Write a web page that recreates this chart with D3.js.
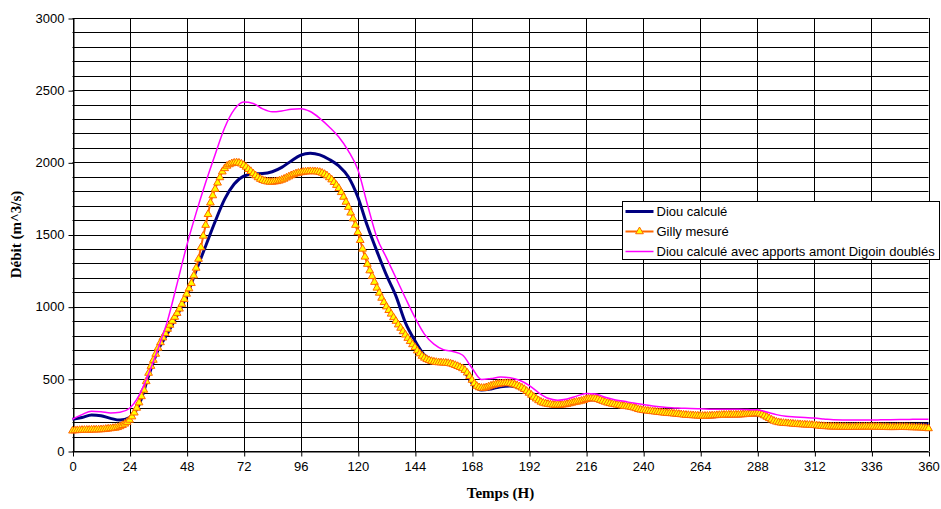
<!DOCTYPE html>
<html>
<head>
<meta charset="utf-8">
<script src="https://cdn.jsdelivr.net/npm/d3@7"></script>
<style>
  body { margin: 0; background: #fff; }
  svg { display: block; }
  .tick text { font-family: "Liberation Sans", Arial, sans-serif; font-size: 13px; fill: #000; }
</style>
</head>
<body>
<div id="container"></div>
<script>
// hours for the two computed series (one value every 4 h)
const lineHours = d3.range(0, 361, 4);
// hours for the measured series (hourly)
const gillyHours = d3.range(0, 361, 1);

const diouCalcule = [
  220, 232, 250, 244, 226, 214, 232, 320, 520, 700, 815, 940,
  1075, 1250, 1420, 1590, 1745, 1850, 1905, 1920, 1922, 1935, 1965, 2010,
  2050, 2063, 2052, 2020, 1975, 1900, 1760, 1560, 1385, 1220, 1075, 890,
  765, 665, 625, 615, 600, 568, 470, 422, 430, 445, 450, 435,
  395, 345, 318, 310, 318, 335, 355, 355, 335, 318, 306, 292,
  278, 268, 260, 253, 247, 242, 238, 238, 240, 243, 245, 248,
  250, 225, 205, 195, 190, 187, 184, 182, 180, 180, 180, 180,
  180, 181, 182, 183, 184, 185, 185
];

const diouDoubles = [
  220, 252, 276, 272, 263, 268, 296, 385, 535, 710, 905, 1160,
  1420, 1650, 1860, 2055, 2240, 2365, 2418, 2408, 2370, 2350, 2356, 2368,
  2372, 2352, 2305, 2245, 2175, 2080, 1950, 1710, 1480, 1340, 1200, 1060,
  925, 810, 740, 702, 690, 665, 575, 495, 502, 512, 508, 490,
  455, 405, 365, 352, 360, 380, 398, 395, 372, 355, 344, 332,
  322, 312, 305, 300, 297, 294, 292, 290, 289, 289, 289, 287,
  285, 270, 252, 240, 236, 232, 228, 222, 216, 215, 215, 215,
  215, 216, 217, 218, 219, 220, 220
];

const gillyMesure = [
  140, 142, 143, 144, 145, 145, 146, 146, 147, 147, 148, 148, 149, 150, 152, 154, 156, 158, 160, 164, 170, 178, 188, 200,
  215, 238, 265, 298, 335, 378, 423, 482, 540, 588, 630, 672, 714, 752, 785, 815, 845, 873, 900, 928, 955, 985, 1018, 1052,
  1088, 1125, 1162, 1215, 1268, 1330, 1410, 1490, 1565, 1640, 1720, 1770, 1815, 1858, 1895, 1935, 1958, 1975, 1985, 1992, 1996, 1998, 1996, 1990,
  1980, 1968, 1952, 1938, 1922, 1908, 1895, 1884, 1876, 1870, 1866, 1864, 1864, 1866, 1868, 1872, 1878, 1885, 1893, 1901, 1909, 1916, 1922, 1926,
  1930, 1933, 1935, 1936, 1937, 1937, 1936, 1935, 1932, 1926, 1918, 1908, 1895, 1880, 1862, 1842, 1820, 1792, 1760, 1725, 1690, 1650, 1610, 1565,
  1515, 1460, 1400, 1345, 1295, 1250, 1210, 1170, 1130, 1095, 1060, 1030, 1000, 975, 950, 925, 900, 875, 852, 828, 805, 782, 760, 738,
  718, 695, 675, 658, 645, 635, 628, 622, 618, 615, 613, 612, 611, 610, 608, 605, 600, 594, 587, 580, 572, 560, 542, 518,
  492, 468, 450, 440, 436, 436, 440, 446, 452, 457, 461, 464, 466, 468, 469, 469, 468, 465, 460, 454, 446, 438, 428, 415,
  402, 388, 374, 362, 350, 340, 333, 328, 325, 322, 320, 319, 319, 319, 320, 322, 325, 329, 333, 337, 340, 343, 347, 352,
  358, 362, 364, 364, 362, 358, 352, 346, 340, 334, 330, 326, 323, 320, 317, 314, 311, 309, 307, 304, 300, 295, 289, 285,
  282, 280, 278, 276, 274, 272, 270, 268, 266, 264, 262, 261, 260, 258, 257, 255, 253, 251, 249, 248, 247, 246, 245, 244,
  243, 243, 243, 243, 244, 245, 246, 247, 248, 249, 250, 250, 251, 251, 251, 251, 251, 252, 253, 254, 255, 257, 258, 259,
  260, 258, 253, 245, 236, 226, 216, 208, 202, 198, 195, 193, 192, 191, 190, 188, 186, 185, 184, 183, 182, 181, 180, 179,
  178, 176, 174, 172, 171, 170, 169, 168, 168, 167, 167, 166, 166, 166, 165, 165, 165, 165, 166, 166, 166, 167, 167, 167,
  167, 167, 166, 166, 165, 165, 165, 164, 164, 164, 164, 165, 165, 165, 165, 164, 164, 163, 163, 162, 162, 161, 160, 158, 156
];

const xTicks = d3.range(0, 361, 24);
const yTicks = [0, 500, 1000, 1500, 2000, 2500, 3000];
const yGrid = d3.range(0, 3001, 100);

const legendLabels = ["Diou calculé", "Gilly mesuré", "Diou calculé avec apports amont Digoin doublés"];

const width = 941, height = 509;
const margin = { top: 18, right: 12, bottom: 58, left: 72 };

const svg = d3.select("#container")
  .append("svg")
  .attr("width", width)
  .attr("height", height);

const x = d3.scaleLinear().domain([0, 360]).range([margin.left + 0.5, width - margin.right - 0.5]);
const y = d3.scaleLinear().domain([0, 3000]).range([height - margin.bottom, margin.top]);

const crisp = (v) => Math.round(v) + 0.5;

// grid
const grid = svg.append("g").attr("stroke", "#000").attr("stroke-width", 1);
grid.selectAll("line.h")
  .data(yGrid)
  .join("line")
  .attr("class", "h")
  .attr("x1", x(0)).attr("x2", x(360))
  .attr("y1", (d) => crisp(y(d))).attr("y2", (d) => crisp(y(d)));
grid.selectAll("line.v")
  .data(xTicks)
  .join("line")
  .attr("class", "v")
  .attr("x1", (d) => crisp(x(d))).attr("x2", (d) => crisp(x(d)))
  .attr("y1", y(3000)).attr("y2", y(0));

// axes
const yAxis = svg.append("g")
  .attr("transform", `translate(${crisp(x(0))},0)`)
  .call(d3.axisLeft(y).tickValues(yTicks).tickFormat(d3.format("d")).tickSize(5).tickPadding(4).tickSizeOuter(0));
const xAxis = svg.append("g")
  .attr("transform", `translate(0,${crisp(y(0))})`)
  .call(d3.axisBottom(x).tickValues(xTicks).tickFormat(d3.format("d")).tickSize(5).tickPadding(5).tickSizeOuter(0));
[xAxis, yAxis].forEach((a) => {
  a.select(".domain").attr("stroke", "#000");
  a.selectAll(".tick line").attr("stroke", "#000");
});
yAxis.selectAll(".tick line").attr("transform", "translate(0,0.5)");
xAxis.selectAll(".tick line").attr("transform", "translate(0.5,0)");

// axis titles
svg.append("text")
  .attr("x", (x(0) + x(360)) / 2)
  .attr("y", 498)
  .attr("text-anchor", "middle")
  .style("font-family", "'Liberation Serif', 'Times New Roman', serif")
  .style("font-weight", "bold")
  .style("font-size", "15px")
  .text("Temps (H)");

svg.append("text")
  .attr("transform", `translate(21,${(y(0) + y(3000)) / 2}) rotate(-90)`)
  .attr("text-anchor", "middle")
  .style("font-family", "'Liberation Serif', 'Times New Roman', serif")
  .style("font-weight", "bold")
  .style("font-size", "15px")
  .text("Débit (m^3/s)");

// series
const line = d3.line()
  .x((d) => x(d[0]))
  .y((d) => y(d[1]))
  .curve(d3.curveMonotoneX);

const blueData = lineHours.map((h, i) => [h, diouCalcule[i]]);
const pinkData = lineHours.map((h, i) => [h, diouDoubles[i]]);
const gillyData = gillyHours.map((h, i) => [h, gillyMesure[i]]);

svg.append("path")
  .datum(blueData)
  .attr("fill", "none")
  .attr("stroke", "#000080")
  .attr("stroke-width", 3)
  .attr("d", line);

svg.append("path")
  .datum(gillyData)
  .attr("fill", "none")
  .attr("stroke", "#ff6600")
  .attr("stroke-width", 2)
  .attr("d", line);

const tri = d3.symbol().type(d3.symbolTriangle).size(26);
svg.append("g")
  .selectAll("path")
  .data(gillyData)
  .join("path")
  .attr("transform", (d) => `translate(${x(d[0])},${y(d[1])})`)
  .attr("d", tri)
  .attr("fill", "#ffff00")
  .attr("stroke", "#ff6600")
  .attr("stroke-width", 1);

svg.append("path")
  .datum(pinkData)
  .attr("fill", "none")
  .attr("stroke", "#ff00ff")
  .attr("stroke-width", 1.5)
  .attr("d", line);

// legend
const legend = svg.append("g").attr("transform", "translate(622.5,201.5)");
legend.append("rect")
  .attr("width", 317)
  .attr("height", 58)
  .attr("fill", "#fff")
  .attr("stroke", "#000");

const legendStyles = [
  { color: "#000080", w: 3, marker: false },
  { color: "#ff6600", w: 2, marker: true },
  { color: "#ff00ff", w: 1.5, marker: false },
];
legendLabels.forEach((label, i) => {
  const g = legend.append("g").attr("transform", `translate(0,${10 + i * 20})`);
  g.append("line")
    .attr("x1", 3).attr("x2", 31)
    .attr("stroke", legendStyles[i].color)
    .attr("stroke-width", legendStyles[i].w);
  if (legendStyles[i].marker) {
    g.append("path")
      .attr("transform", "translate(17,0)")
      .attr("d", tri)
      .attr("fill", "#ffff00")
      .attr("stroke", "#ff6600");
  }
  g.append("text")
    .attr("x", 34)
    .attr("dy", "0.35em")
    .style("font-family", "'Liberation Sans', Arial, sans-serif")
    .style("font-size", "13px")
    .text(label);
});
</script>
</body>
</html>
